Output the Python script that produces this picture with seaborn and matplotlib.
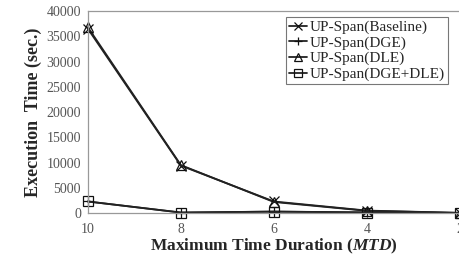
import matplotlib.pyplot as plt
import pandas as pd
import seaborn as sns

# data
mtd = [10, 8, 6, 4, 2]
baseline = [36500, 9400, 2300, 500, 50]
dge = [2300, 120, 300, 150, 20]
dle = [36800, 9500, 2200, 450, 40]
dge_dle = [2300, 100, 300, 120, 20]

series_names = ["UP-Span(Baseline)", "UP-Span(DGE)", "UP-Span(DLE)", "UP-Span(DGE+DLE)"]
series_values = [baseline, dge, dle, dge_dle]
markers = ["x", "+", "^", "s"]
y_ticks = [0, 5000, 10000, 15000, 20000, 25000, 30000, 35000, 40000]

sns.set_style("white")
plt.rcParams["font.family"] = ["Liberation Serif", "DejaVu Serif"]
plt.rcParams["mathtext.fontset"] = "custom"
plt.rcParams["mathtext.it"] = "Liberation Serif:italic:bold"
plt.rcParams["mathtext.rm"] = "Liberation Serif:bold"

df = pd.DataFrame({
    "mtd": mtd * len(series_names),
    "time": [v for vals in series_values for v in vals],
    "series": [n for n in series_names for _ in mtd],
})

fig = plt.figure(figsize=(4.6, 2.58), dpi=100)
ax = fig.add_axes([0.191, 0.174, 0.809, 0.783])

for name, mk in zip(series_names, markers):
    sub = df[df["series"] == name]
    sns.lineplot(data=sub, x="mtd", y="time", ax=ax, label=name,
                 color="#222222", linewidth=1.3, marker=mk, markersize=7,
                 markerfacecolor="none", markeredgecolor="#111111",
                 markeredgewidth=0.9, clip_on=False)

ax.set_xlim(10, 2)
ax.set_ylim(0, 40000)
ax.set_xticks(mtd)
ax.set_yticks(y_ticks)
ax.tick_params(axis="both", length=0, labelsize=10, labelcolor="#555555")
ax.tick_params(axis="x", pad=7)
ax.tick_params(axis="y", pad=5)

for side in ["left", "bottom", "top"]:
    ax.spines[side].set_color("#999999")
    ax.spines[side].set_linewidth(0.9)
ax.spines["right"].set_visible(False)

ax.set_ylabel("Execution  Time (sec.)", fontsize=13, fontweight="bold", labelpad=3)
ax.set_xlabel(r"Maximum Time Duration ($\mathit{MTD}$)", fontsize=12.5,
              fontweight="bold", labelpad=1)

leg = ax.legend(loc="upper right", bbox_to_anchor=(0.967, 0.97), fontsize=11,
                frameon=True, fancybox=False, handlelength=1.2, handletextpad=0.15,
                labelspacing=0.12, borderpad=0.2, borderaxespad=0, markerscale=0.8)
leg.get_frame().set_edgecolor("#555555")
leg.get_frame().set_linewidth(0.8)

fig.savefig("out.png", dpi=100)
